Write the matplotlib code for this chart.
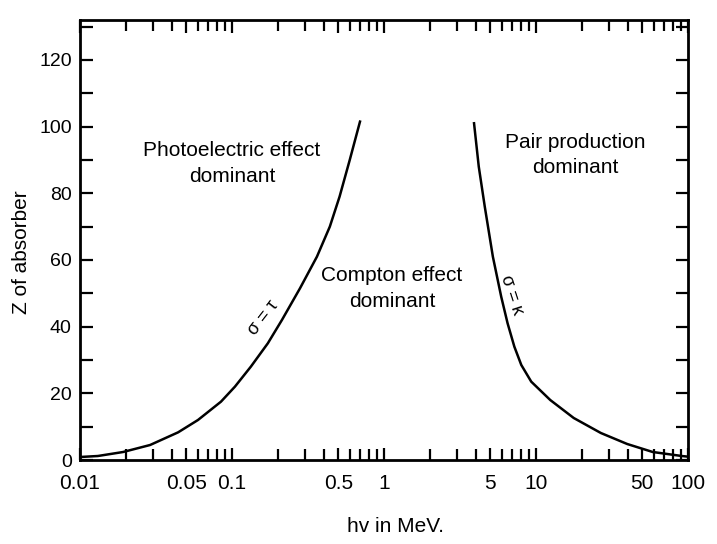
import matplotlib
matplotlib.use("Agg")
import matplotlib.pyplot as plt
from matplotlib.ticker import LogLocator, FixedLocator, NullFormatter, MultipleLocator

# Boundary sigma = tau (photoelectric / Compton)
pe_energy = [0.01, 0.0131, 0.0192, 0.0289, 0.0442, 0.0597, 0.0846, 0.1045, 0.133,
             0.172, 0.213, 0.28, 0.362, 0.44, 0.51, 0.595, 0.695]
pe_z      = [0.9, 1.2, 2.4, 4.5, 8.3, 12.0, 17.5, 22.0, 28.0,
             35.0, 42.0, 51.5, 61.0, 70.0, 79.0, 90.0, 101.5]

# Boundary sigma = kappa (Compton / pair production)
pp_energy = [3.91, 4.2, 4.6, 5.2, 5.9, 6.5, 7.2, 8.0, 9.3, 12.4, 17.7, 26.7, 39.8, 58.6, 91.0, 100.0]
pp_z      = [101.0, 88.0, 76.0, 61.0, 49.0, 41.0, 34.0, 28.5, 23.5, 18.0, 12.6, 8.1, 4.8, 2.4, 1.2, 1.0]

xtick_vals = [0.01, 0.05, 0.1, 0.5, 1, 5, 10, 50, 100]
xtick_labels = ["0.01", "0.05", "0.1", "0.5", "1", "5", "10", "50", "100"]
ytick_vals = [0, 20, 40, 60, 80, 100, 120]
ytick_labels = ["0", "20", "40", "60", "80", "100", "120"]

plt.rcParams['font.family'] = ['Liberation Sans', 'DejaVu Sans']
narrow = ['Liberation Sans Narrow', 'Liberation Sans', 'DejaVu Sans']

fig = plt.figure(figsize=(7.17, 5.44), dpi=100)
ax = fig.add_axes([0.1116, 0.1544, 0.848, 0.809])

ax.plot(pe_energy, pe_z, color='black', lw=1.8, solid_joinstyle='round')
ax.plot(pp_energy, pp_z, color='black', lw=1.8, solid_joinstyle='round')

ax.set_xscale('log')
ax.set_xlim(0.01, 100)
ax.set_ylim(0, 132)

ax.xaxis.set_major_locator(FixedLocator(xtick_vals))
ax.set_xticklabels(xtick_labels, fontsize=15, family=narrow)
ax.xaxis.set_minor_locator(LogLocator(base=10, subs=range(2, 10), numticks=20))
ax.xaxis.set_minor_formatter(NullFormatter())

ax.set_yticks(ytick_vals)
ax.set_yticklabels(ytick_labels, fontsize=14, family=narrow)
ax.yaxis.set_minor_locator(MultipleLocator(10))

ax.tick_params(which='both', direction='in', top=True, right=True, width=1.6, color='black')
ax.tick_params(which='major', length=9)
ax.tick_params(which='minor', length=8)
ax.tick_params(axis='x', pad=10)
ax.tick_params(axis='y', pad=6)
ax.tick_params(axis='y', which='both', length=9)

for s in ax.spines.values():
    s.set_linewidth(2.0)
    s.set_color('black')

ax.text(0.1, 89, "Photoelectric effect\ndominant", ha='center', va='center',
        fontsize=15, linespacing=1.45)
ax.text(18, 91.5, "Pair production\ndominant", ha='center', va='center',
        fontsize=15, linespacing=1.45)
ax.text(1.13, 51.5, "Compton effect\ndominant", ha='center', va='center',
        fontsize=15, linespacing=1.45)

ax.text(0.16, 42.5, "σ = τ", ha='center', va='center', fontsize=13,
        rotation=52)
ax.text(6.95, 49.5, "σ = κ", ha='center', va='center', fontsize=13,
        rotation=-72)

fig.text(395/717, 1 - 526/544, "hv in MeV.", ha='center', va='center', fontsize=15)
fig.text(22/717, 1 - 252/544, "Z of absorber", ha='center', va='center',
         fontsize=15, rotation=90)

fig.savefig("out.png", dpi=100, facecolor='white')
